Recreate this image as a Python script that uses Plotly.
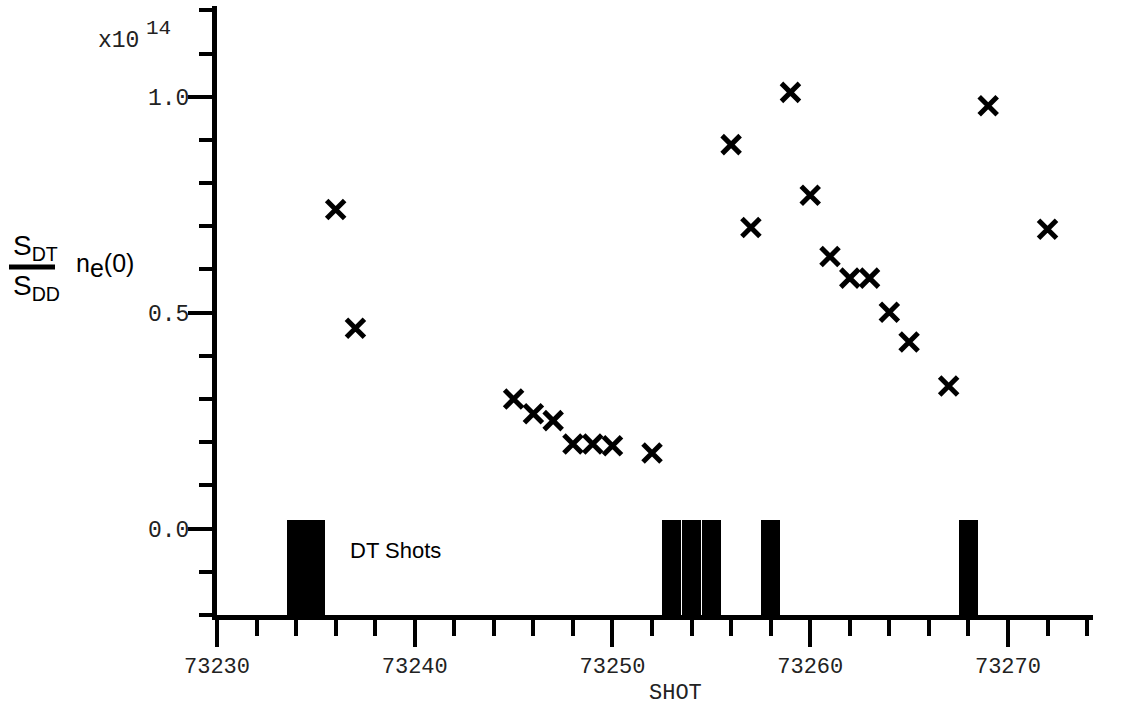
import plotly.graph_objects as go

# ---- data ----
shots = [73236, 73237, 73245, 73246, 73247, 73248, 73249, 73250, 73252,
         73256, 73257, 73259, 73260, 73261, 73262, 73263, 73264, 73265,
         73267, 73269, 73272]
ratio_ne = [0.739, 0.464, 0.300, 0.266, 0.250, 0.196, 0.196, 0.192, 0.175,
            0.889, 0.697, 1.010, 0.772, 0.630, 0.580, 0.580, 0.501, 0.432,
            0.330, 0.979, 0.693]
dt_shots = [73234, 73235, 73253, 73254, 73255, 73258, 73268]
dt_bar_top = [0.02] * len(dt_shots)
dt_bar_base = -0.2

x_ticks = [73230, 73240, 73250, 73260, 73270]
x_ticktext = ["73230", "73240", "73250", "73260", "73270"]
y_ticks = [0.0, 0.5, 1.0]
y_ticktext = ["0.0", "0.5", "1.0"]

W, H = 1128, 708
L, R, T, B = 217, 35, 6, 93
pw, ph = W - L - R, H - T - B


def px(x):
    return (x - L) / pw


def py(y):
    return (H - B - y) / ph


MONO = "Liberation Mono"
SANS = "Liberation Sans, Arial"
TXT = "#222"

fig = go.Figure()
fig.add_trace(go.Bar(
    x=dt_shots, y=[t - dt_bar_base for t in dt_bar_top], base=dt_bar_base,
    width=0.96, marker=dict(color="black", line=dict(width=0)),
    showlegend=False, hoverinfo="skip"))
fig.add_trace(go.Scatter(
    x=shots, y=ratio_ne, mode="markers",
    marker=dict(symbol="x-thin", size=18, color="black",
                line=dict(width=5, color="black")),
    showlegend=False))

fig.update_layout(
    width=W, height=H,
    margin=dict(l=L, r=R, t=T, b=B),
    paper_bgcolor="white", plot_bgcolor="white",
    xaxis=dict(range=[73230, 73274.3], showgrid=False, zeroline=False,
               showline=True, linewidth=5, linecolor="black",
               ticks="outside", ticklen=27, tickwidth=4, tickcolor="black",
               tickvals=x_ticks, ticktext=x_ticktext,
               tickfont=dict(family=MONO, size=22, color=TXT),
               minor=dict(dtick=2, tick0=73230, ticks="outside", ticklen=16,
                          tickwidth=4, tickcolor="black", showgrid=False)),
    yaxis=dict(range=[-0.2, 1.21], showgrid=False, zeroline=False,
               showline=True, linewidth=5, linecolor="black",
               ticks="outside", ticklen=24, tickwidth=4, tickcolor="black",
               tickvals=y_ticks, ticktext=y_ticktext, ticklabelstandoff=-6,
               tickfont=dict(family=MONO, size=23, color=TXT),
               minor=dict(dtick=0.1, tick0=0, ticks="outside", ticklen=13,
                          tickwidth=4, tickcolor="black", showgrid=False)),
    bargap=0,
)

ann = []
ann.append(dict(text="x10", x=px(96), y=py(41), xanchor="left", yanchor="middle",
                font=dict(family=MONO, size=23, color=TXT)))
ann.append(dict(text="14", x=px(144), y=py(29), xanchor="left", yanchor="middle",
                font=dict(family=MONO, size=21, color=TXT)))
ann.append(dict(text="SHOT", x=px(675), y=py(693), xanchor="center", yanchor="middle",
                font=dict(family=MONO, size=22, color=TXT)))
ann.append(dict(text="DT Shots", x=73236.6, y=-0.05, xref="x", yref="y",
                xanchor="left", yanchor="middle",
                font=dict(family=SANS, size=22, color="black")))
ann.append(dict(text="S<sub>DT</sub>", x=px(11), y=py(248), xanchor="left", yanchor="middle",
                font=dict(family=SANS, size=28, color="black")))
ann.append(dict(text="S<sub>DD</sub>", x=px(11), y=py(287), xanchor="left", yanchor="middle",
                font=dict(family=SANS, size=28, color="black")))
ann.append(dict(text="n<sub><span style='font-size:25px'>e</span></sub>(0)", x=px(74), y=py(265),
                xanchor="left", yanchor="middle",
                font=dict(family=SANS, size=25, color="black")))
for a in ann:
    a.setdefault("xref", "paper")
    a.setdefault("yref", "paper")
    a["showarrow"] = False
fig.update_layout(annotations=ann)

fig.add_shape(type="line", xref="paper", yref="paper",
              x0=px(9), x1=px(55), y0=py(267), y1=py(267),
              line=dict(color="black", width=5))

fig.write_html("out.html")
